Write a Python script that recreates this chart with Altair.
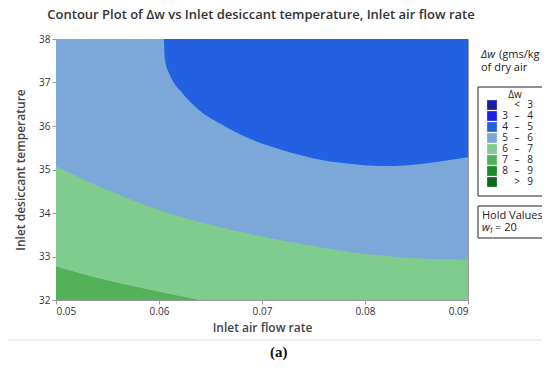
import altair as alt
import pandas as pd

# ---- data ----
x_range = [0.05, 0.09]
y_range = [32, 38]
x_ticks = [0.05, 0.06, 0.07, 0.08, 0.09]
y_ticks = [32, 33, 34, 35, 36, 37, 38]

# boundary between 6-7 (below) and 5-6 (above)
x_green = [0.05, 0.055, 0.06, 0.065, 0.07, 0.075, 0.08, 0.085, 0.09]
y_green_top = [35.07, 34.53, 34.07, 33.73, 33.46, 33.24, 33.06, 32.96, 32.93]

# boundary between 7-8 (below) and 6-7 (above)
x_dgreen = [0.05, 0.055, 0.06, 0.0639]
y_dgreen_top = [32.77, 32.45, 32.19, 32.0]

# boundary between 4-5 (above) and 5-6 (below)
x_blue = [0.06048, 0.06058, 0.06113, 0.06226, 0.06387, 0.06613, 0.06871,
          0.07194, 0.07581, 0.07903, 0.08161, 0.08419, 0.0871, 0.09]
y_blue_bottom = [38.0, 37.52, 37.14, 36.76, 36.37, 36.03, 35.72,
                 35.45, 35.22, 35.12, 35.08, 35.10, 35.18, 35.28]

bands = ["< 3", "3 – 4", "4 – 5", "5 – 6", "6 – 7", "7 – 8", "8 – 9", "> 9"]
band_colors = ["#1C1CA8", "#1E1EE6", "#2261E2", "#7BA7D9",
               "#80CC8E", "#53B15A", "#1A8C2C", "#0B6B1B"]
leg_low = ["", "3", "4", "5", "6", "7", "8", ""]
leg_sym = ["<", "–", "–", "–", "–", "–", "–", ">"]
leg_high = ["3", "4", "5", "6", "7", "8", "9", "9"]

FONT = "Open Sans"
color_scale = alt.Scale(domain=bands, range=band_colors)

# ---- contour layers ----
xs = alt.Scale(domain=x_range, nice=False, zero=False)
ys = alt.Scale(domain=y_range, nice=False, zero=False)
xax = alt.Axis(title="Inlet air flow rate", values=x_ticks, format=".2f", titlePadding=6)
yax = alt.Axis(title="Inlet desiccant temperature", values=y_ticks, format="d", titlePadding=11)

base_df = pd.DataFrame({"x": x_range, "lo": [y_range[0]] * 2, "hi": [y_range[1]] * 2, "band": ["5 – 6"] * 2})
green_df = pd.DataFrame({"x": x_green, "lo": y_range[0], "hi": y_green_top, "band": "6 – 7"})
dgreen_df = pd.DataFrame({"x": x_dgreen, "lo": y_range[0], "hi": y_dgreen_top, "band": "7 – 8"})
blue_df = pd.DataFrame({"x": x_blue, "lo": y_blue_bottom, "hi": y_range[1], "band": "4 – 5"})


def area(df):
    return alt.Chart(df).mark_area(interpolate="monotone", opacity=1, clip=True).encode(
        x=alt.X("x:Q", scale=xs, axis=xax),
        y=alt.Y("hi:Q", scale=ys, axis=yax),
        y2="lo:Q",
        color=alt.Color("band:N", scale=color_scale, legend=None),
    )


contour = alt.layer(area(base_df), area(green_df), area(dgreen_df), area(blue_df))

# ---- legend (drawn) ----
leg_df = pd.DataFrame({"row": list(range(8)), "band": bands, "low": leg_low, "sym": leg_sym, "high": leg_high})
ly = alt.Y("row:Q", scale=alt.Scale(domain=[0, 7], range=[66, 143]), axis=None)
leg_sq = alt.Chart(leg_df).mark_square(size=95, opacity=1).encode(
    x=alt.value(436), y=ly, color=alt.Color("band:N", scale=color_scale, legend=None))
txt = dict(font=FONT, fontSize=10, color="#222", baseline="middle")
leg_low_t = alt.Chart(leg_df).mark_text(align="center", **txt).encode(x=alt.value(449), y=ly, text="low:N")
leg_sym_t = alt.Chart(leg_df).mark_text(align="center", **txt).encode(x=alt.value(461), y=ly, text="sym:N")
leg_high_t = alt.Chart(leg_df).mark_text(align="center", **txt).encode(x=alt.value(474), y=ly, text="high:N")
legend = alt.layer(leg_sq, leg_low_t, leg_sym_t, leg_high_t)

one = alt.Data(values=[{}])


def box(x1, x2, y1, y2, stroke, width=1):
    return alt.Chart(one).mark_rect(fill="transparent", stroke=stroke, strokeWidth=width).encode(
        x=alt.value(x1), x2=alt.value(x2), y=alt.value(y1), y2=alt.value(y2))


def label(t, x, y, size=10, align="left", style="normal", weight="normal", font=FONT, color="#222"):
    return alt.Chart(one).mark_text(text=t, align=align, baseline="middle", fontSize=size,
                                    fontStyle=style, fontWeight=weight, font=font, color=color).encode(
        x=alt.value(x), y=alt.value(y))


decor = alt.layer(
    box(-51, 489, -34, 301, "#dcdcdc"),
    box(422, 487, 48, 157, "#222"),
    box(422, 487, 167, 199, "#222"),
    label("Contour Plot of Δw vs Inlet desiccant temperature, Inlet air flow rate", 205, -24,
          size=13, align="center", weight=600, color="#333"),
    label("Δw", 459, 56, align="center"),
    label("Δw", 425, 16, size=11, style="italic"),
    label("(gms/kg", 443, 16, size=11),
    label("of dry air", 425, 29, size=11),
    label("Hold Values", 426, 177, size=11),
    label("w₁", 426, 189, size=11, style="italic"),
    label("= 20", 439, 189, size=11),
    label("(a)", 214, 313, size=15, weight="bold", font="Liberation Serif", color="#111"),
)

chart = alt.layer(contour, legend, decor).resolve_scale(
    y="independent", color="independent"
).properties(
    width=412, height=261,
    autosize="none",
    padding={"left": 48, "top": 31, "right": 74, "bottom": 64},
    background="white",
).configure_view(stroke="#9a9a9a", strokeWidth=1).configure_axis(
    labelFont=FONT, titleFont=FONT, labelFontSize=10, titleFontSize=12, titleFontWeight=600,
    labelColor="#333", titleColor="#444", domainColor="#9a9a9a", tickColor="#9a9a9a",
    tickSize=4, grid=False, labelPadding=2,
)

chart.save("out.html", embed_options={"renderer": "svg", "actions": False})
